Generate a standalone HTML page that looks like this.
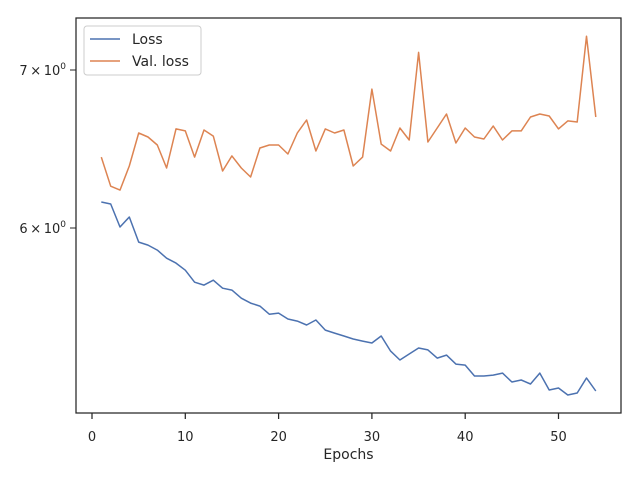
<!DOCTYPE html>
<html><head><meta charset="utf-8"><style>
body{margin:0;background:#fff;}
svg text{font-family:"DejaVu Sans","Liberation Sans",sans-serif;fill:#262626;}
</style></head><body>
<svg id="chart" width="640" height="480" viewBox="0 0 640 480" xmlns="http://www.w3.org/2000/svg">
<rect x="0" y="0" width="640" height="480" fill="#fff"/>
<text x="-6" y="245" font-size="14" transform="rotate(-90 -6 245)" text-anchor="middle">Loss</text>
<g id="grid"></g>
<g id="lines"></g>
<rect x="76" y="18" width="545" height="395" fill="none" stroke="#262626" stroke-width="1.25"/>
<g id="axes"></g>
<text x="348.5" y="459" font-size="14" text-anchor="middle">Epochs</text>
<g>
<rect x="84" y="26" width="117" height="49" rx="3" fill="#fff" fill-opacity="0.8" stroke="#ccc"/>
<line x1="90" y1="39" x2="120" y2="39" stroke="#4c72b0" stroke-width="1.5"/>
<text x="132" y="44" font-size="14">Loss</text>
<line x1="90" y1="61" x2="120" y2="61" stroke="#dd8452" stroke-width="1.5"/>
<text x="132" y="66" font-size="14">Val. loss</text>
</g>
</svg>
<script>
const epochs = Array.from({length:54},(_,i)=>i+1);
const lossValues = [6.154,6.142,6.006,6.065,5.918,5.901,5.872,5.826,5.798,5.758,5.691,5.675,5.702,5.658,5.647,5.603,5.576,5.560,5.516,5.522,5.490,5.479,5.458,5.485,5.431,5.415,5.400,5.384,5.373,5.363,5.400,5.321,5.275,5.306,5.337,5.327,5.285,5.300,5.254,5.249,5.193,5.193,5.198,5.208,5.163,5.173,5.153,5.208,5.123,5.133,5.098,5.108,5.183,5.118];
const valLossValues = [6.430,6.250,6.226,6.374,6.583,6.557,6.506,6.362,6.609,6.596,6.430,6.602,6.563,6.343,6.437,6.362,6.306,6.487,6.506,6.506,6.449,6.583,6.667,6.468,6.609,6.583,6.602,6.374,6.430,6.871,6.512,6.468,6.615,6.538,7.121,6.525,6.615,6.706,6.519,6.615,6.557,6.544,6.628,6.538,6.596,6.596,6.686,6.706,6.693,6.609,6.661,6.654,7.235,6.686];
const xTicks = [0,10,20,30,40,50];
const yTicks = [6,7];
const yTickLabels = ["6","7"];

const NS="http://www.w3.org/2000/svg";
function xs(v){return 92 + v*9.33;}
function ys(v){return 228 - Math.log10(v/6)*2360;}
const lines=document.getElementById('lines');
function drawLine(vals,color,name){
  const p=document.createElementNS(NS,'polyline');
  p.setAttribute('points',vals.map((v,i)=>xs(epochs[i]).toFixed(1)+','+ys(v).toFixed(1)).join(' '));
  p.setAttribute('fill','none');p.setAttribute('stroke',color);p.setAttribute('stroke-width','1.5');
  p.setAttribute('stroke-linejoin','round');
  
  
  lines.appendChild(p);
}
drawLine(lossValues,'#4c72b0','loss-line');
drawLine(valLossValues,'#dd8452','val-loss-line');
const axes=document.getElementById('axes');
xTicks.forEach(t=>{
  const x=xs(t);
  const l=document.createElementNS(NS,'line');
  l.setAttribute('x1',x);l.setAttribute('x2',x);l.setAttribute('y1',413);l.setAttribute('y2',419);
  l.setAttribute('stroke','#262626');l.setAttribute('stroke-width','1.25');
  
  
  axes.appendChild(l);
  const tx=document.createElementNS(NS,'text');
  tx.setAttribute('x',x);tx.setAttribute('y',441);tx.setAttribute('font-size','13');tx.setAttribute('text-anchor','middle');
  tx.textContent=t;
  
  
  axes.appendChild(tx);
});
yTicks.forEach((t,i)=>{
  const y=ys(t);
  const l=document.createElementNS(NS,'line');
  l.setAttribute('x1',70);l.setAttribute('x2',76);l.setAttribute('y1',y);l.setAttribute('y2',y);
  l.setAttribute('stroke','#262626');l.setAttribute('stroke-width','1');
  
  
  axes.appendChild(l);
  const tx=document.createElementNS(NS,'text');
  tx.setAttribute('x',66);tx.setAttribute('y',y+5);tx.setAttribute('font-size','13');tx.setAttribute('text-anchor','end');
  tx.innerHTML=yTickLabels[i]+'\u2009\u00d7\u200910<tspan dy="-6" font-size="9">0</tspan>';
  
  
  axes.appendChild(tx);
});
</script>
</body></html>
